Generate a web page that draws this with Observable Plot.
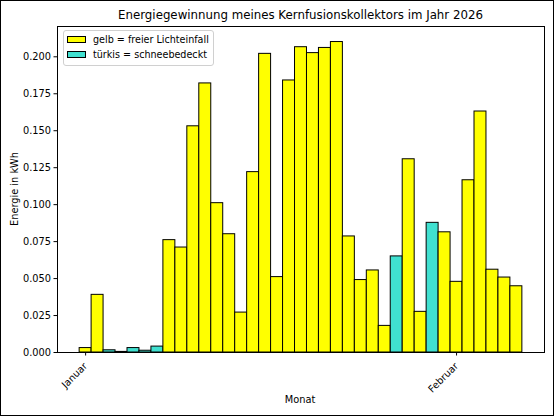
<!DOCTYPE html>
<html>
<head>
<meta charset="utf-8">
<script src="https://cdn.jsdelivr.net/npm/d3@7"></script>
<script src="https://cdn.jsdelivr.net/npm/@observablehq/plot@0.6"></script>
<style>
  body { margin: 0; background: #fff; font-family: "DejaVu Sans", sans-serif; }
  #fig { position: relative; width: 554px; height: 416px; overflow: hidden; }
  #border { position: absolute; left: 0; top: 0; width: 554px; height: 416px; box-sizing: border-box; border: 1.5px solid #000; pointer-events: none; }
  #title { position: absolute; left: 57px; width: 487px; top: 8px; text-align: center; font-size: 11.8px; color: #000; }
  #legend { position: absolute; left: 63px; top: 30px; width: 151px; height: 36px; box-sizing: border-box; border: 1px solid #d0d0d0; border-radius: 3px; background: rgba(255,255,255,0.8); font-size: 9.6px; }
  .item { position: absolute; left: 3px; height: 14px; line-height: 14px; white-space: nowrap; }
  .sw { display: inline-block; width: 19px; height: 7px; border: 1px solid #000; box-sizing: border-box; vertical-align: middle; margin-right: 7px; margin-top: -2px; }
  #ylabel { position: absolute; left: 14px; top: 189px; transform: translate(-50%, -50%) rotate(-90deg); font-size: 9.8px; white-space: nowrap; }
  #xlabel { position: absolute; left: 300px; top: 394px; transform: translateX(-50%); font-size: 9.8px; }
</style>
</head>
<body>
<div id="fig">
  <div id="chart"></div>
  <div id="title">Energiegewinnung meines Kernfusionskollektors im Jahr 2026</div>
  <div id="legend">
    <div class="item" style="top:2px"><span class="sw" style="background:#ffff00"></span>gelb = freier Lichteinfall</div>
    <div class="item" style="top:17px"><span class="sw" style="background:#40e0d0"></span>türkis = schneebedeckt</div>
  </div>
  <div id="ylabel">Energie in kWh</div>
  <div id="xlabel">Monat</div>
  <div id="border"></div>
</div>
<script>
// one bar per day, 1 Jan to 6 Feb 2026
const days = [
  "2026-01-01", "2026-01-02", "2026-01-03", "2026-01-04", "2026-01-05", "2026-01-06",
  "2026-01-07", "2026-01-08", "2026-01-09", "2026-01-10", "2026-01-11", "2026-01-12",
  "2026-01-13", "2026-01-14", "2026-01-15", "2026-01-16", "2026-01-17", "2026-01-18",
  "2026-01-19", "2026-01-20", "2026-01-21", "2026-01-22", "2026-01-23", "2026-01-24",
  "2026-01-25", "2026-01-26", "2026-01-27", "2026-01-28", "2026-01-29", "2026-01-30",
  "2026-01-31", "2026-02-01", "2026-02-02", "2026-02-03", "2026-02-04", "2026-02-05",
  "2026-02-06"
];
const energy = [
  0.003, 0.039, 0.0015, 0.0004, 0.003, 0.0012, 0.004,
  0.076, 0.071, 0.153, 0.182, 0.101, 0.080, 0.027,
  0.122, 0.202, 0.051, 0.184, 0.2065, 0.2025, 0.206, 0.210,
  0.0785, 0.049, 0.0555, 0.018, 0.065, 0.1307, 0.0275, 0.0877,
  0.0813, 0.0478, 0.1165, 0.163, 0.056, 0.0507, 0.0448
];
// true = snow covered (türkis)
const snow = [
  false, false, true, true, true, true, true,
  false, false, false, false, false, false, false,
  false, false, false, false, false, false, false, false,
  false, false, false, false, true, false, false, true,
  false, false, false, false, false, false, false
];
const monthTicks = ["2026-01-01", "2026-02-01"];
const monthLabels = ["Januar", "Februar"];
const yTicks = [0, 0.025, 0.05, 0.075, 0.1, 0.125, 0.15, 0.175, 0.2];

const DAY = 864e5;
const rows = days.map((d, i) => ({date: new Date(d + "T00:00:00Z"), value: energy[i], snow: snow[i]}));
const tickDates = monthTicks.map(d => new Date(d + "T00:00:00Z"));
const first = rows[0].date, last = rows[rows.length - 1].date;
// matplotlib-like 5% margin around the bar extent
const span = (last - first) + DAY;
const pad = span * 0.05;

const chart = Plot.plot({
  width: 554,
  height: 416,
  marginTop: 26,
  marginBottom: 64,
  marginLeft: 57,
  marginRight: 10,
  style: {fontFamily: '"DejaVu Sans", sans-serif', fontSize: "9.8px", color: "#000", background: "transparent"},
  x: {type: "utc", domain: [new Date(+first - DAY / 2 - pad), new Date(+last + DAY / 2 + pad)]},
  y: {domain: [0, 0.2205]},
  marks: [
    Plot.rectY(rows, {
      x1: d => new Date(+d.date - DAY / 2),
      x2: d => new Date(+d.date + DAY / 2),
      y: "value",
      fill: d => d.snow ? "#40e0d0" : "#ffff00",
      stroke: "#000",
      strokeWidth: 1
    }),
    Plot.frame({stroke: "#000", strokeWidth: 1}),
    Plot.axisY({ticks: yTicks, tickFormat: d3.format(".3f"), tickSize: 3.5, tickPadding: 3, label: null, fontSize: 9.8}),
    Plot.axisX({
      ticks: tickDates,
      tickFormat: (d, i) => monthLabels[i],
      tickSize: 3.5,
      tickRotate: -45,
      label: null,
      fontSize: 9.8
    })
  ]
});
document.getElementById("chart").append(chart);
</script>
</body>
</html>
